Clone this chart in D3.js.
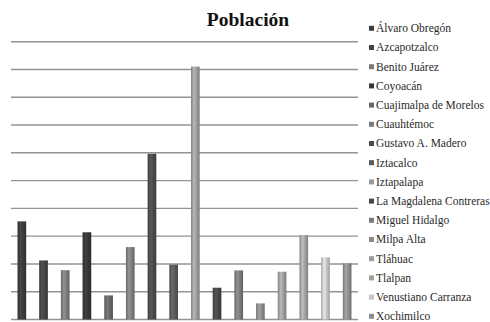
<!DOCTYPE html>
<html>
<head>
<meta charset="utf-8">
<script src="https://cdn.jsdelivr.net/npm/d3@7"></script>
<style>
  html, body { margin: 0; padding: 0; background: #fff; }
  svg { display: block; }
</style>
</head>
<body>
<svg id="chart" width="490" height="322"></svg>
<script>
// Population by borough (delegación) of Mexico City
const delegaciones = [
  "Álvaro Obregón", "Azcapotzalco", "Benito Juárez", "Coyoacán",
  "Cuajimalpa de Morelos", "Cuauhtémoc", "Gustavo A. Madero", "Iztacalco",
  "Iztapalapa", "La Magdalena Contreras", "Miguel Hidalgo", "Milpa Alta",
  "Tláhuac", "Tlalpan", "Venustiano Carranza", "Xochimilco"
];
const poblacion = [
  706567, 425298, 355017, 628063,
  173625, 521348, 1193161, 395025,
  1820888, 228927, 353534, 115895,
  344106, 607545, 447459, 404458
];
const grises = [
  "#3c3c3c", "#444444", "#7a7a7a", "#363636",
  "#666666", "#7c7c7c", "#4a4a4a", "#595959",
  "#9a9a9a", "#474747", "#7a7a7a", "#8a8a8a",
  "#9c9c9c", "#a0a0a0", "#c4c4c4", "#8c8c8c"
];
const gridTicks = d3.range(0, 2000001, 200000);

const svg = d3.select("#chart");

const x = d3.scaleBand()
  .domain(delegaciones)
  .range([11, 358])
  .paddingInner(0.6)
  .paddingOuter(0.3);

const y = d3.scaleLinear()
  .domain([0, 2000000])
  .range([319.5, 41.7]);

// Shaded fills give each bar a rounded, cylinder-like look
const defs = svg.append("defs");
delegaciones.forEach((d, i) => {
  const base = d3.color(grises[i]);
  const g = defs.append("linearGradient")
    .attr("id", "g" + i)
    .attr("x1", "0%").attr("x2", "100%")
    .attr("y1", "0%").attr("y2", "0%");
  g.append("stop").attr("offset", "0%").attr("stop-color", base.darker(0.5));
  g.append("stop").attr("offset", "35%").attr("stop-color", base.brighter(0.5));
  g.append("stop").attr("offset", "65%").attr("stop-color", base);
  g.append("stop").attr("offset", "100%").attr("stop-color", base.darker(0.6));
});

// Horizontal gridlines
svg.append("g")
  .selectAll("line")
  .data(gridTicks)
  .join("line")
  .attr("x1", 11)
  .attr("x2", 358)
  .attr("y1", d => y(d))
  .attr("y2", d => y(d))
  .attr("stroke", "#939393")
  .attr("stroke-width", 1.4);

// Bars
svg.append("g")
  .selectAll("rect")
  .data(poblacion)
  .join("rect")
  .attr("x", (d, i) => x(delegaciones[i]))
  .attr("width", x.bandwidth())
  .attr("y", d => y(d))
  .attr("height", d => y(0) - y(d))
  .attr("fill", (d, i) => `url(#g${i})`);

// Title
svg.append("text")
  .attr("x", 248)
  .attr("y", 26)
  .attr("text-anchor", "middle")
  .attr("font-family", "'Liberation Serif', 'DejaVu Serif', serif")
  .attr("font-weight", "bold")
  .attr("font-size", 19.5)
  .attr("fill", "#111")
  .text("Población");

// Legend
const legend = svg.append("g")
  .selectAll("g")
  .data(delegaciones)
  .join("g")
  .attr("transform", (d, i) => `translate(369, ${28.3 + i * 19.2})`);

legend.append("rect")
  .attr("x", 0)
  .attr("y", -2.5)
  .attr("width", 5)
  .attr("height", 5)
  .attr("fill", (d, i) => grises[i]);

legend.append("text")
  .attr("x", 7)
  .attr("y", 3.8)
  .attr("font-family", "'Liberation Serif', 'DejaVu Serif', serif")
  .attr("font-size", 11.5)
  .attr("fill", "#2a2a2a")
  .text(d => d);
</script>
</body>
</html>
